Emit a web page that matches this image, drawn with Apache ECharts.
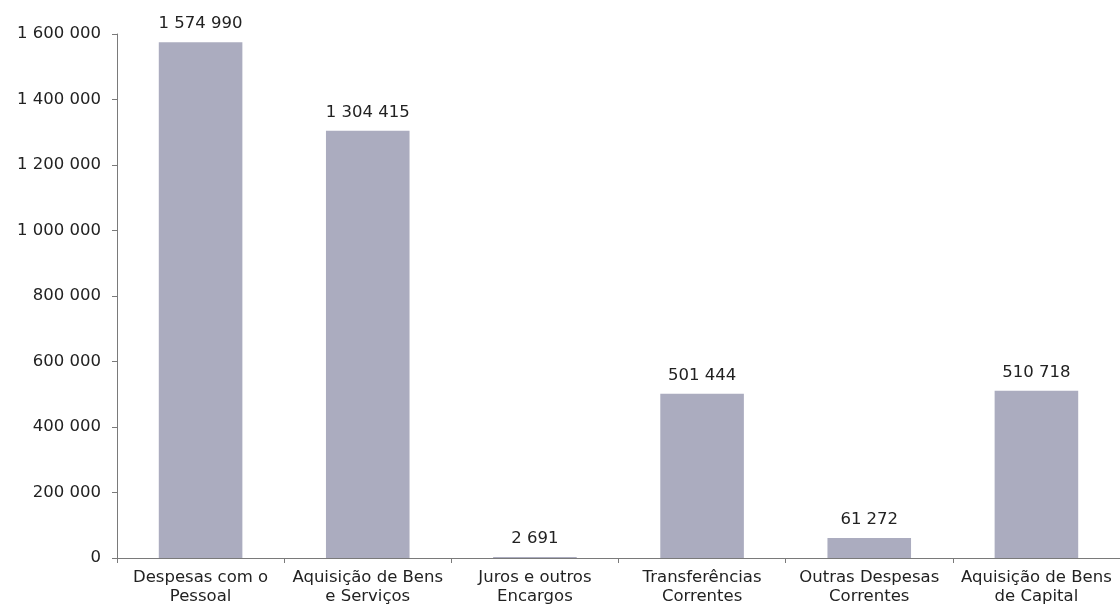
<!DOCTYPE html>
<html>
<head>
<meta charset="utf-8">
<script src="https://cdn.jsdelivr.net/npm/echarts@6/dist/echarts.min.js"></script>
<style>
  html, body { margin: 0; padding: 0; background: #fff; }
  #chart { width: 1120px; height: 610px; }
</style>
</head>
<body>
<div id="chart"></div>
<script>
// Despesas por classificação económica
const categories = [
  'Despesas com o\nPessoal',
  'Aquisição de Bens\ne Serviços',
  'Juros e outros\nEncargos',
  'Transferências\nCorrentes',
  'Outras Despesas\nCorrentes',
  'Aquisição de Bens\nde Capital'
];
const values = [1574990, 1304415, 2691, 501444, 61272, 510718];
const yMin = 0;
const yMax = 1600000;
const yStep = 200000;

// Thousands grouped with spaces, e.g. 1 574 990
function groupDigits(n) {
  return String(Math.round(n)).replace(/\B(?=(\d{3})+(?!\d))/g, ' ');
}

const font = 'Verdana, "DejaVu Sans", sans-serif';
const fs = 16.5;
const chart = echarts.init(document.getElementById('chart'), null, { renderer: 'canvas' });
chart.setOption({
  animation: false,
  backgroundColor: '#ffffff',
  grid: { left: 117, top: 34, width: 1008, bottom: 52, containLabel: false },
  xAxis: {
    type: 'category',
    data: categories,
    axisLine: { lineStyle: { color: '#7a7a7a', width: 1 } },
    axisTick: { show: true, alignWithLabel: false, length: 5, lineStyle: { color: '#7a7a7a' } },
    axisLabel: {
      color: '#222', fontFamily: font, fontSize: fs, lineHeight: 19, margin: 10, interval: 0
    }
  },
  yAxis: {
    type: 'value',
    min: yMin, max: yMax, interval: yStep,
    axisLine: { show: true, lineStyle: { color: '#7a7a7a', width: 1 } },
    axisTick: { show: true, length: 5, lineStyle: { color: '#7a7a7a' } },
    splitLine: { show: false },
    axisLabel: {
      color: '#222', fontFamily: font, fontSize: fs, margin: 16,
      formatter: v => groupDigits(v)
    }
  },
  series: [{
    type: 'bar',
    data: values,
    barCategoryGap: '50%',
    itemStyle: { color: '#abacbf' },
    label: {
      show: true, position: 'top', distance: 10,
      color: '#222', fontFamily: font, fontSize: fs,
      formatter: p => groupDigits(p.value)
    }
  }]
});
</script>
</body>
</html>
